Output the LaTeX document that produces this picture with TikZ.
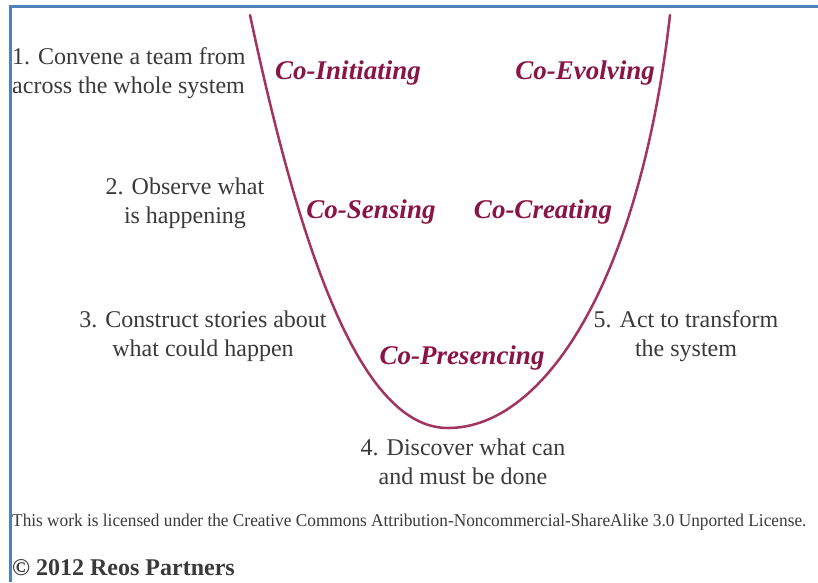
\documentclass[tikz,border=0pt]{standalone}
\usepackage{fontspec}
\setmainfont{Liberation Serif}
\definecolor{ucol}{HTML}{A3335F}
\definecolor{lcol}{HTML}{8A1446}
\definecolor{tcol}{HTML}{3A3A3A}
\definecolor{framecol}{HTML}{4F81BD}
\begin{document}
\begin{tikzpicture}[x=1pt,y=-1pt,
  plain/.style={text=tcol, font=\fontsize{24}{29}\selectfont, align=center, inner sep=0pt},
  colabel/.style={text=lcol, font=\fontsize{27}{30}\selectfont\bfseries\itshape, inner sep=0pt}]
\useasboundingbox (0,0) rectangle (818,582);
\fill[white] (0,0) rectangle (818,582);
\draw[framecol, line width=3pt] (10,582) -- (10,6) -- (818,6);
\coordinate (ltop) at (250,15);
\coordinate (bot) at (448,428);
\coordinate (rtop) at (670,15);
\draw[ucol, line width=2.5pt, line cap=round]
  (ltop) .. controls (300,250) and (360,428) .. (bot)
         .. controls (545,428) and (640,280) .. (rtop);
\node[plain, anchor=west, align=left] (s1) at (12,73) {1. Convene a team from\\across the whole system};
\node[plain] (s2) at (185,203) {2. Observe what\\is happening};
\node[plain] (s3) at (203,336) {3. Construct stories about\\what could happen};
\node[plain] (s4) at (463,462) {4. Discover what can\\and must be done};
\node[plain] (s5) at (686,336) {5. Act to transform\\the system};
\node[colabel] (ci) at (348,73) {Co-Initiating};
\node[colabel] (ce) at (585,73) {Co-Evolving};
\node[colabel] (cs) at (371,212) {Co-Sensing};
\node[colabel] (cc) at (543,212) {Co-Creating};
\node[colabel] (cp) at (462,358) {Co-Presencing};
\node[text=tcol, anchor=west, inner sep=0pt, font=\fontsize{18}{20}\selectfont] (lic) at (12,522)
  {\scalebox{0.96}[1]{This work is licensed under the Creative Commons Attribution-Noncommercial-ShareAlike 3.0 Unported License.}};
\node[text=tcol, anchor=west, inner sep=0pt, font=\fontsize{24}{26}\selectfont\bfseries] (copy) at (12,568)
  {© 2012 Reos Partners};
\end{tikzpicture}
\end{document}
